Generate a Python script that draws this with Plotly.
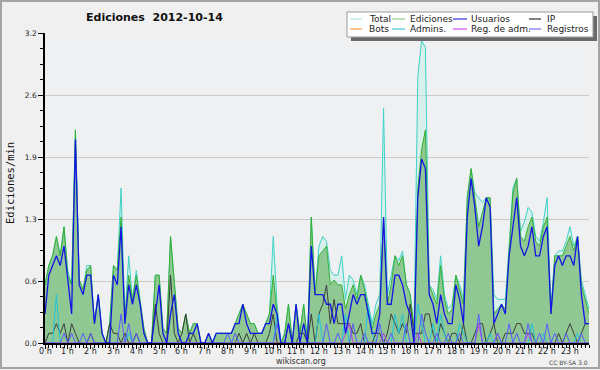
import plotly.graph_objects as go

# ---- data: 10-minute bins over 2012-10-14 (edits per minute) ----
bin_minutes = list(range(0, 1440, 10))
hour_labels = ["0 h", "1 h", "2 h", "3 h", "4 h", "5 h", "6 h", "7 h", "8 h", "9 h", "10 h", "11 h",
               "12 h", "13 h", "14 h", "15 h", "16 h", "17 h", "18 h", "19 h", "20 h", "21 h", "22 h", "23 h"]
hour_ticks = list(range(24))
y_tick_vals = [0, 0.64, 1.28, 1.92, 2.56, 3.2]
y_tick_text = ["0.0", "0.6", "1.3", "1.9", "2.6", "3.2"]

total = [0.6, 0.8, 0.9, 1.1, 0.9, 1.2, 0.75, 0.6, 2.2, 0.65, 0.55, 0.8,
         0.8, 0.2, 0.5, 0.1, 0.0, 0.2, 0.8, 0.75, 1.6, 0.25, 0.9, 0.45,
         0.75, 0.45, 0.15, 0.0, 0.0, 0.7, 0.7, 0.15, 0.1, 1.1, 0.6, 0.15,
         0.1, 0.3, 0.1, 0.2, 0.2, 0.0, 0.0, 0.1, 0.0, 0.1, 0.1, 0.1,
         0.1, 0.1, 0.2, 0.3, 0.4, 0.3, 0.2, 0.2, 0.1, 0.1, 0.2, 0.3,
         1.1, 0.4, 0.0, 0.1, 0.4, 0.0, 0.4, 0.1, 0.4, 0.0, 1.3, 0.5,
         1.0, 1.1, 1.05, 0.75, 0.7, 0.7, 0.9, 0.45, 0.7, 0.65, 0.5, 0.7,
         0.6, 0.4, 0.2, 0.4, 0.5, 2.42, 0.5, 0.7, 0.9, 0.85, 0.95, 0.6,
         0.5, 0.15, 2.75, 3.12, 3.05, 0.6, 0.55, 0.45, 0.9, 0.5, 0.35, 0.4,
         0.7, 0.6, 0.45, 1.5, 1.8, 1.55, 1.5, 1.45, 1.5, 1.5, 0.5, 0.45,
         0.45, 0.45, 1.0, 1.6, 1.7, 1.15, 1.25, 1.4, 1.35, 1.1, 1.05, 1.25,
         1.5, 0.35, 0.9, 0.95, 0.95, 1.05, 1.2, 1.0, 1.1, 0.65, 0.5, 0.35]

ediciones = [0.6, 0.8, 0.9, 1.1, 0.9, 1.2, 0.7, 0.6, 2.2, 0.65, 0.55, 0.75,
             0.8, 0.2, 0.5, 0.1, 0.0, 0.2, 0.8, 0.75, 1.3, 0.25, 0.7, 0.45,
             0.7, 0.45, 0.15, 0.0, 0.0, 0.7, 0.7, 0.15, 0.1, 1.1, 0.6, 0.15,
             0.1, 0.3, 0.1, 0.2, 0.2, 0.0, 0.0, 0.1, 0.0, 0.1, 0.1, 0.1,
             0.1, 0.1, 0.2, 0.3, 0.4, 0.3, 0.2, 0.2, 0.1, 0.1, 0.2, 0.3,
             0.7, 0.3, 0.0, 0.1, 0.4, 0.0, 0.4, 0.1, 0.4, 0.0, 1.3, 0.5,
             0.9, 0.95, 1.0, 0.6, 0.65, 0.6, 0.6, 0.35, 0.5, 0.6, 0.45, 0.7,
             0.55, 0.35, 0.15, 0.3, 0.4, 1.3, 0.4, 0.6, 0.9, 0.8, 0.9, 0.6,
             0.5, 0.15, 1.6, 2.0, 2.2, 0.6, 0.5, 0.4, 0.8, 0.45, 0.3, 0.35,
             0.7, 0.55, 0.4, 1.5, 1.8, 1.5, 1.2, 1.35, 1.5, 1.5, 0.3, 0.35,
             0.4, 0.35, 1.0, 1.55, 1.7, 1.1, 1.05, 1.2, 1.3, 1.05, 1.0, 1.2,
             1.3, 0.3, 0.9, 0.9, 0.9, 1.0, 1.1, 0.95, 1.1, 0.6, 0.45, 0.3]

usuarios = [0.3, 0.7, 0.8, 0.9, 0.8, 1.0, 0.65, 0.3, 2.1, 0.6, 0.5, 0.7,
            0.7, 0.2, 0.5, 0.1, 0.0, 0.0, 0.7, 0.6, 1.2, 0.2, 0.6, 0.4,
            0.6, 0.4, 0.1, 0.0, 0.0, 0.3, 0.6, 0.1, 0.0, 0.3, 0.5, 0.1,
            0.0, 0.0, 0.1, 0.1, 0.2, 0.0, 0.0, 0.1, 0.0, 0.1, 0.1, 0.1,
            0.1, 0.1, 0.2, 0.2, 0.4, 0.2, 0.1, 0.1, 0.1, 0.1, 0.2, 0.2,
            0.4, 0.3, 0.0, 0.0, 0.2, 0.0, 0.4, 0.0, 0.2, 0.0, 1.0, 0.5,
            0.5, 0.5, 0.4, 0.4, 0.2, 0.4, 0.4, 0.1, 0.3, 0.5, 0.4, 0.5,
            0.5, 0.3, 0.1, 0.1, 0.3, 1.3, 0.4, 0.4, 0.7, 0.7, 0.6, 0.4,
            0.3, 0.0, 1.5, 1.9, 1.8, 0.5, 0.4, 0.2, 0.5, 0.3, 0.2, 0.2,
            0.6, 0.45, 0.2, 1.3, 1.7, 1.4, 1.0, 1.2, 1.5, 1.4, 0.2, 0.3,
            0.4, 0.3, 0.9, 1.2, 1.5, 1.0, 0.9, 1.0, 1.2, 0.9, 0.9, 1.1,
            1.2, 0.3, 0.8, 0.9, 0.8, 0.9, 0.9, 0.8, 1.1, 0.5, 0.2, 0.2]

ip = [0.0, 0.1, 0.1, 0.2, 0.1, 0.2, 0.0, 0.2, 0.1, 0.0, 0.0, 0.0,
      0.1, 0.0, 0.0, 0.0, 0.0, 0.2, 0.1, 0.1, 0.0, 0.1, 0.0, 0.0,
      0.1, 0.0, 0.0, 0.0, 0.0, 0.4, 0.1, 0.0, 0.0, 0.7, 0.1, 0.0,
      0.1, 0.3, 0.0, 0.1, 0.0, 0.0, 0.0, 0.0, 0.0, 0.0, 0.0, 0.0,
      0.0, 0.0, 0.0, 0.1, 0.0, 0.1, 0.0, 0.1, 0.0, 0.0, 0.0, 0.1,
      0.3, 0.0, 0.0, 0.0, 0.2, 0.0, 0.0, 0.1, 0.1, 0.0, 0.3, 0.0,
      0.3, 0.4, 0.6, 0.2, 0.45, 0.2, 0.2, 0.2, 0.2, 0.1, 0.1, 0.2,
      0.0, 0.0, 0.0, 0.1, 0.1, 0.0, 0.1, 0.3, 0.2, 0.1, 0.2, 0.1,
      0.4, 0.1, 0.1, 0.1, 0.3, 0.3, 0.1, 0.0, 0.2, 0.1, 0.0, 0.1,
      0.1, 0.0, 0.2, 0.0, 0.0, 0.1, 0.2, 0.2, 0.0, 0.1, 0.2, 0.0,
      0.0, 0.1, 0.1, 0.1, 0.2, 0.2, 0.1, 0.1, 0.1, 0.0, 0.0, 0.0,
      0.0, 0.0, 0.0, 0.1, 0.0, 0.1, 0.2, 0.1, 0.0, 0.1, 0.2, 0.2]

bots = [0.0] * 144

admins = [0.0, 0.0, 0.0, 0.5, 0.0, 0.0, 0.0, 0.0, 0.0, 0.0, 0.0, 0.0,
          0.0, 0.0, 0.0, 0.0, 0.0, 0.0, 0.0, 0.0, 0.0, 0.0, 0.1, 0.0,
          0.0, 0.0, 0.0, 0.0, 0.0, 0.0, 0.0, 0.0, 0.0, 0.0, 0.0, 0.0,
          0.0, 0.0, 0.0, 0.0, 0.0, 0.0, 0.0, 0.0, 0.0, 0.0, 0.0, 0.0,
          0.0, 0.0, 0.0, 0.0, 0.0, 0.0, 0.0, 0.0, 0.0, 0.0, 0.0, 0.0,
          0.0, 0.3, 0.0, 0.0, 0.0, 0.0, 0.0, 0.0, 0.0, 0.0, 0.0, 0.0,
          0.3, 0.0, 0.0, 0.0, 0.0, 0.0, 0.0, 0.3, 0.0, 0.0, 0.0, 0.0,
          0.0, 0.4, 0.1, 0.0, 0.0, 0.0, 0.0, 0.0, 0.3, 0.1, 0.3, 0.0,
          0.0, 0.0, 0.4, 0.2, 0.0, 0.0, 0.2, 0.0, 0.3, 0.1, 0.0, 0.0,
          0.0, 0.2, 0.1, 0.0, 0.0, 0.0, 0.0, 0.0, 0.0, 0.1, 0.0, 0.0,
          0.0, 0.0, 0.0, 0.0, 0.0, 0.0, 0.0, 0.0, 0.2, 0.0, 0.0, 0.1,
          0.0, 0.0, 0.0, 0.0, 0.0, 0.0, 0.0, 0.0, 0.1, 0.0, 0.0, 0.0]

reg_adm = [0.0, 0.0, 0.0, 0.0, 0.0, 0.0, 0.0, 0.0, 0.0, 0.0, 0.0, 0.0,
           0.0, 0.0, 0.0, 0.0, 0.0, 0.0, 0.0, 0.0, 0.0, 0.0, 0.0, 0.0,
           0.0, 0.0, 0.0, 0.0, 0.0, 0.0, 0.0, 0.0, 0.0, 0.0, 0.0, 0.0,
           0.0, 0.0, 0.0, 0.0, 0.0, 0.0, 0.0, 0.0, 0.0, 0.0, 0.0, 0.0,
           0.0, 0.0, 0.0, 0.0, 0.0, 0.0, 0.0, 0.0, 0.0, 0.0, 0.0, 0.0,
           0.0, 0.0, 0.0, 0.0, 0.0, 0.0, 0.0, 0.0, 0.0, 0.0, 0.0, 0.0,
           0.0, 0.0, 0.0, 0.0, 0.0, 0.0, 0.0, 0.1, 0.2, 0.0, 0.0, 0.0,
           0.0, 0.0, 0.0, 0.0, 0.0, 0.1, 0.0, 0.0, 0.0, 0.0, 0.0, 0.0,
           0.0, 0.0, 0.1, 0.0, 0.0, 0.0, 0.0, 0.0, 0.0, 0.0, 0.0, 0.0,
           0.0, 0.0, 0.0, 0.0, 0.0, 0.0, 0.2, 0.0, 0.0, 0.0, 0.0, 0.1,
           0.0, 0.0, 0.0, 0.0, 0.0, 0.0, 0.0, 0.1, 0.0, 0.0, 0.0, 0.0,
           0.0, 0.0, 0.0, 0.0, 0.0, 0.0, 0.0, 0.0, 0.0, 0.0, 0.0, 0.0]

registros = [0.0, 0.0, 0.0, 0.0, 0.0, 0.1, 0.0, 0.1, 0.0, 0.0, 0.1, 0.0,
             0.1, 0.0, 0.0, 0.0, 0.0, 0.0, 0.0, 0.0, 0.3, 0.0, 0.2, 0.0,
             0.1, 0.0, 0.0, 0.0, 0.0, 0.0, 0.0, 0.0, 0.0, 0.0, 0.0, 0.0,
             0.0, 0.0, 0.0, 0.0, 0.0, 0.0, 0.0, 0.0, 0.0, 0.0, 0.0, 0.0,
             0.1, 0.0, 0.1, 0.0, 0.0, 0.0, 0.0, 0.0, 0.0, 0.0, 0.0, 0.0,
             0.0, 0.2, 0.0, 0.0, 0.0, 0.0, 0.0, 0.0, 0.0, 0.0, 0.0, 0.0,
             0.0, 0.0, 0.2, 0.0, 0.0, 0.1, 0.0, 0.0, 0.0, 0.2, 0.0, 0.0,
             0.1, 0.0, 0.0, 0.0, 0.2, 0.0, 0.0, 0.1, 0.0, 0.0, 0.0, 0.2,
             0.0, 0.0, 0.0, 0.3, 0.1, 0.0, 0.0, 0.1, 0.0, 0.0, 0.1, 0.0,
             0.0, 0.1, 0.0, 0.0, 0.0, 0.0, 0.3, 0.0, 0.0, 0.0, 0.0, 0.1,
             0.0, 0.0, 0.2, 0.0, 0.1, 0.0, 0.0, 0.2, 0.0, 0.0, 0.1, 0.0,
             0.2, 0.0, 0.1, 0.0, 0.0, 0.1, 0.0, 0.0, 0.0, 0.1, 0.0, 0.0]

# ---- geometry helpers (pixel -> paper coords) ----
W, H = 600, 370
ML, MR, MT, MB = 45, 11, 33, 27
PW = W - ML - MR
PH = H - MT - MB


def px(x):
    return (x - ML) / PW


def py(y):
    return (H - MB - y) / PH


x_hours = [m / 60 for m in bin_minutes]

fig = go.Figure()


def add_line(name, values, color, width=1.0, fill=None, fillcolor=None):
    fig.add_trace(go.Scatter(
        x=x_hours, y=values, name=name, mode="lines",
        line=dict(color=color, width=width),
        fill=fill, fillcolor=fillcolor,
        hoverinfo="skip", showlegend=False))


add_line("Total", total, "#3ed2c6", 1.0, "tozeroy", "rgba(192,240,228,0.5)")
add_line("Ediciones", ediciones, "#34b034", 1.0, "tozeroy", "rgba(126,190,125,0.8)")
add_line("Bots", bots, "#ff9a30", 1.0)
add_line("IP", ip, "#3c3c3c", 1.0)
add_line("Admins.", admins, "#22c4dc", 1.0)
add_line("Reg. de adm.", reg_adm, "#c040e0", 1.0)
add_line("Registros", registros, "#5a5aff", 1.0)
add_line("Usuarios", usuarios, "#1414e6", 1.3)

fig.update_layout(
    width=W, height=H,
    margin=dict(l=ML, r=MR, t=MT, b=MB),
    paper_bgcolor="#f0f0f0", plot_bgcolor="#eef0f2",
    showlegend=False,
    font=dict(family="DejaVu Sans", size=8, color="#222222"),
)

fig.update_xaxes(
    range=[0, x_hours[-1]],
    tickmode="array", tickvals=hour_ticks, showticklabels=False,
    ticks="outside", ticklen=4, tickwidth=1, tickcolor="black",
    showline=True, linecolor="black", linewidth=1.5,
    showgrid=False, zeroline=False, layer="above traces",
    minor=dict(tickmode="linear", tick0=0, dtick=1 / 6, ticks="outside",
               ticklen=3.5, tickwidth=1, tickcolor="black", showgrid=False),
)

fig.update_yaxes(
    range=[0, 3.2],
    tickmode="array", tickvals=y_tick_vals, ticktext=y_tick_text,
    ticks="outside", ticklen=5, tickwidth=1, tickcolor="black",
    showline=True, linecolor="black", linewidth=1.5,
    showgrid=True, gridcolor="#cbcbcb", gridwidth=1,
    zeroline=False, layer="above traces",
    tickfont=dict(family="DejaVu Sans", size=7.5, color="#222222"),
    minor=dict(tickmode="linear", tick0=0, dtick=0.16, ticks="outside",
               ticklen=3, tickwidth=1, tickcolor="black", showgrid=False),
)

shapes = []
# outer frame
shapes.append(dict(type="rect", xref="paper", yref="paper",
                   x0=px(1), x1=px(599), y0=py(368), y1=py(1),
                   line=dict(color="#a4a4a4", width=2), layer="above"))
# legend shadow and box
shapes.append(dict(type="rect", xref="paper", yref="paper",
                   x0=px(351), x1=px(597), y0=py(41), y1=py(16),
                   fillcolor="#6a6a6a", line=dict(width=0), layer="above"))
shapes.append(dict(type="rect", xref="paper", yref="paper",
                   x0=px(347), x1=px(593), y0=py(37), y1=py(12),
                   fillcolor="white", line=dict(color="#9a9a9a", width=1), layer="above"))

legend_items = [
    ("Total", "#aee6e6", 350, 362, 366.5, 19),
    ("Ediciones", "#8fd08f", 392, 405, 408, 19),
    ("Usuarios", "#3434e0", 453, 467, 469, 19),
    ("IP", "#303030", 529, 541, 544.5, 19),
    ("Bots", "#ffa040", 350, 362, 366.5, 29),
    ("Admins.", "#40c8d8", 392, 405, 408, 29),
    ("Reg. de adm.", "#d050e8", 453, 467, 469, 29),
    ("Registros", "#7070f0", 529, 541, 544.5, 29),
]

annotations = []
for label, col, sx0, sx1, tx, ty in legend_items:
    shapes.append(dict(type="line", xref="paper", yref="paper",
                       x0=px(sx0), x1=px(sx1), y0=py(ty), y1=py(ty),
                       line=dict(color=col, width=1.2), layer="above"))
    annotations.append(dict(text=label, xref="paper", yref="paper",
                            x=px(tx), y=py(ty), xanchor="left", yanchor="middle",
                            showarrow=False,
                            font=dict(family="DejaVu Sans", size=9, color="#222222")))

# hour tick labels placed right under the ticks
for h, lab in zip(hour_ticks, hour_labels):
    annotations.append(dict(text=lab, xref="x", yref="paper",
                            x=h, y=py(351.5), xanchor="center", yanchor="middle",
                            showarrow=False,
                            font=dict(family="DejaVu Sans", size=8, color="#222222")))

annotations.append(dict(text="<b>Ediciones\u00a0 2012-10-14</b>", xref="paper", yref="paper",
                        x=px(154), y=py(17), xanchor="center", yanchor="middle",
                        showarrow=False,
                        font=dict(family="DejaVu Sans", size=11, color="#111111")))
annotations.append(dict(text="Ediciones/min", xref="paper", yref="paper",
                        x=px(10), y=py(183), xanchor="center", yanchor="middle",
                        textangle=-90, showarrow=False,
                        font=dict(family="DejaVu Sans Mono", size=10.5, color="#111111")))
annotations.append(dict(text="wikiscan.org", xref="paper", yref="paper",
                        x=px(301), y=py(361.5), xanchor="center", yanchor="middle",
                        showarrow=False,
                        font=dict(family="DejaVu Sans", size=8, color="#333333")))
annotations.append(dict(text="CC BY-SA 3.0", xref="paper", yref="paper",
                        x=px(590), y=py(362.5), xanchor="right", yanchor="middle",
                        showarrow=False,
                        font=dict(family="DejaVu Sans", size=6, color="#444444")))

fig.update_layout(shapes=shapes, annotations=annotations)

# remove the default page margin so the 600x370 figure fills the window exactly
fig.write_html("out.html",
               config={"displayModeBar": False},
               post_script="document.body.style.margin='0';document.body.style.overflow='hidden';")
